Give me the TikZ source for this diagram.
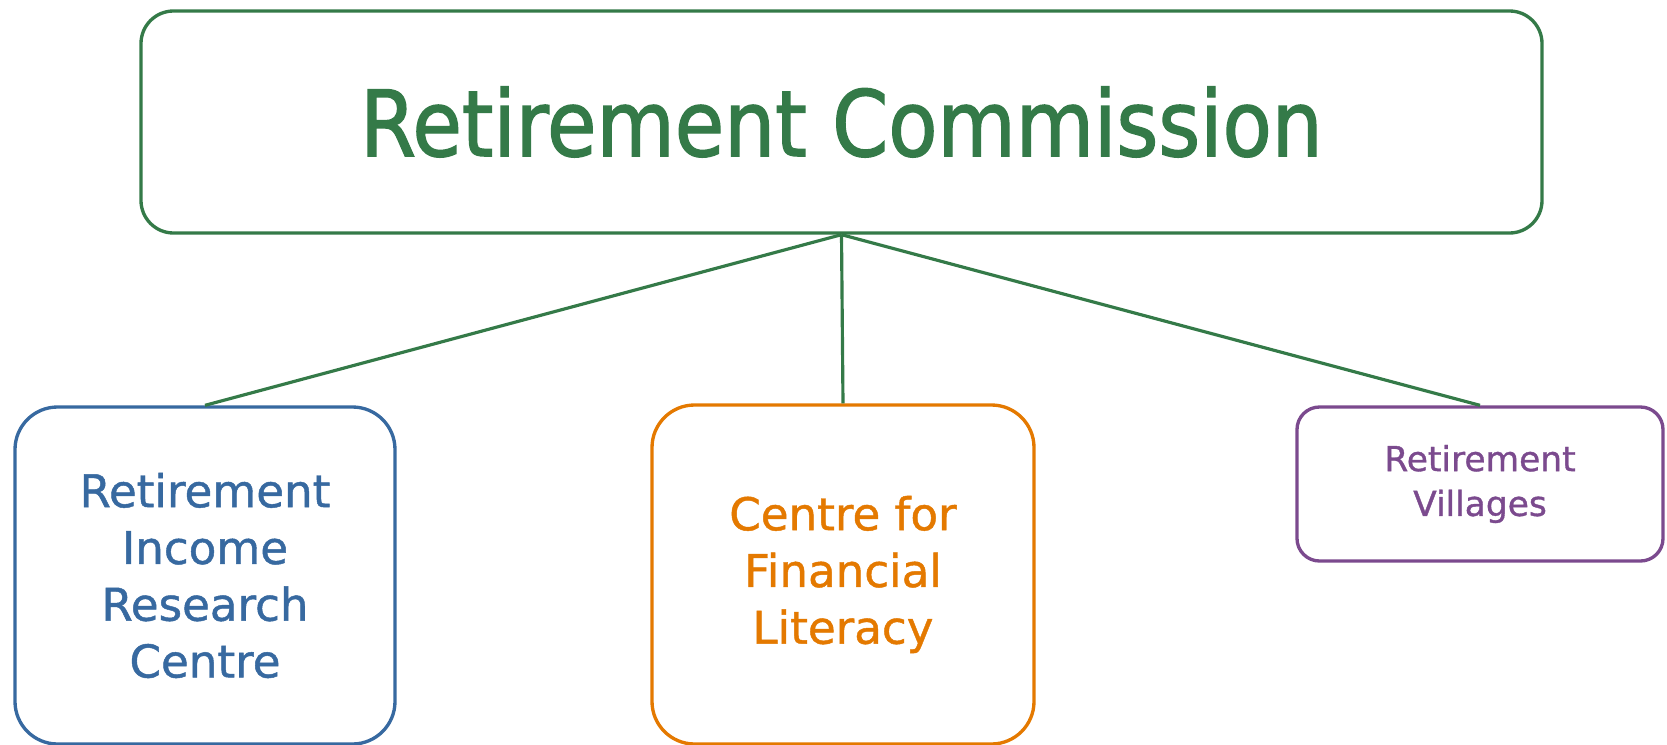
\documentclass[tikz,border=0pt]{standalone}
\usepackage{fontspec}
\setmainfont[FakeBold=1.2]{DejaVu Sans}
\newfontfamily\unitfont[FakeBold=1.0]{DejaVu Sans}
\newfontfamily\titlefont[FakeStretch=0.88, FakeBold=1.5]{DejaVu Sans}
\usetikzlibrary{positioning}

\definecolor{rcgreen}{RGB}{52,122,72}
\definecolor{rcblue}{RGB}{55,105,160}
\definecolor{rcorange}{RGB}{228,121,0}
\definecolor{rcpurple}{RGB}{123,74,142}

\begin{document}
\begin{tikzpicture}[x=0.02cm, y=-0.02cm,
		box/.style={draw, line width=1.9pt, fill=white, align=center, inner sep=0pt},
		link/.style={draw=rcgreen, line width=1.8pt}]
				\useasboundingbox (0,0) rectangle (1667,744);
				% top box
				\node[box, draw=rcgreen, text=rcgreen, rounded corners=0.65cm, minimum width=1401*0.02cm, minimum height=222*0.02cm,
					font=\titlefont\fontsize{52}{60}\selectfont] (rc) at (841.5,122) {Retirement Commission};
				% the three units
				\node[box, draw=rcblue, text=rcblue, rounded corners=0.85cm, minimum width=380*0.02cm, minimum height=337*0.02cm,
					font=\unitfont\fontsize{25.7}{32.3}\selectfont] (rirc) at (205,575.5) {Retirement\\Income\\Research\\Centre};
				\node[box, draw=rcorange, text=rcorange, rounded corners=0.85cm, minimum width=382*0.02cm, minimum height=339*0.02cm,
					font=\unitfont\fontsize{25.7}{32.3}\selectfont] (cffl) at (843,574.5) {Centre for\\Financial\\Literacy};
				\node[box, draw=rcpurple, text=rcpurple, rounded corners=0.45cm, minimum width=366*0.02cm, minimum height=154*0.02cm,
					font=\unitfont\fontsize{19.6}{25.5}\selectfont] (rv) at (1480,484) {Retirement\\Villages};
				% connectors
				\draw[link] (rc.south) -- (rirc.north);
				\draw[link] (rc.south) -- (cffl.north);
				\draw[link] (rc.south) -- (rv.north);
				\end{tikzpicture}
\end{document}
